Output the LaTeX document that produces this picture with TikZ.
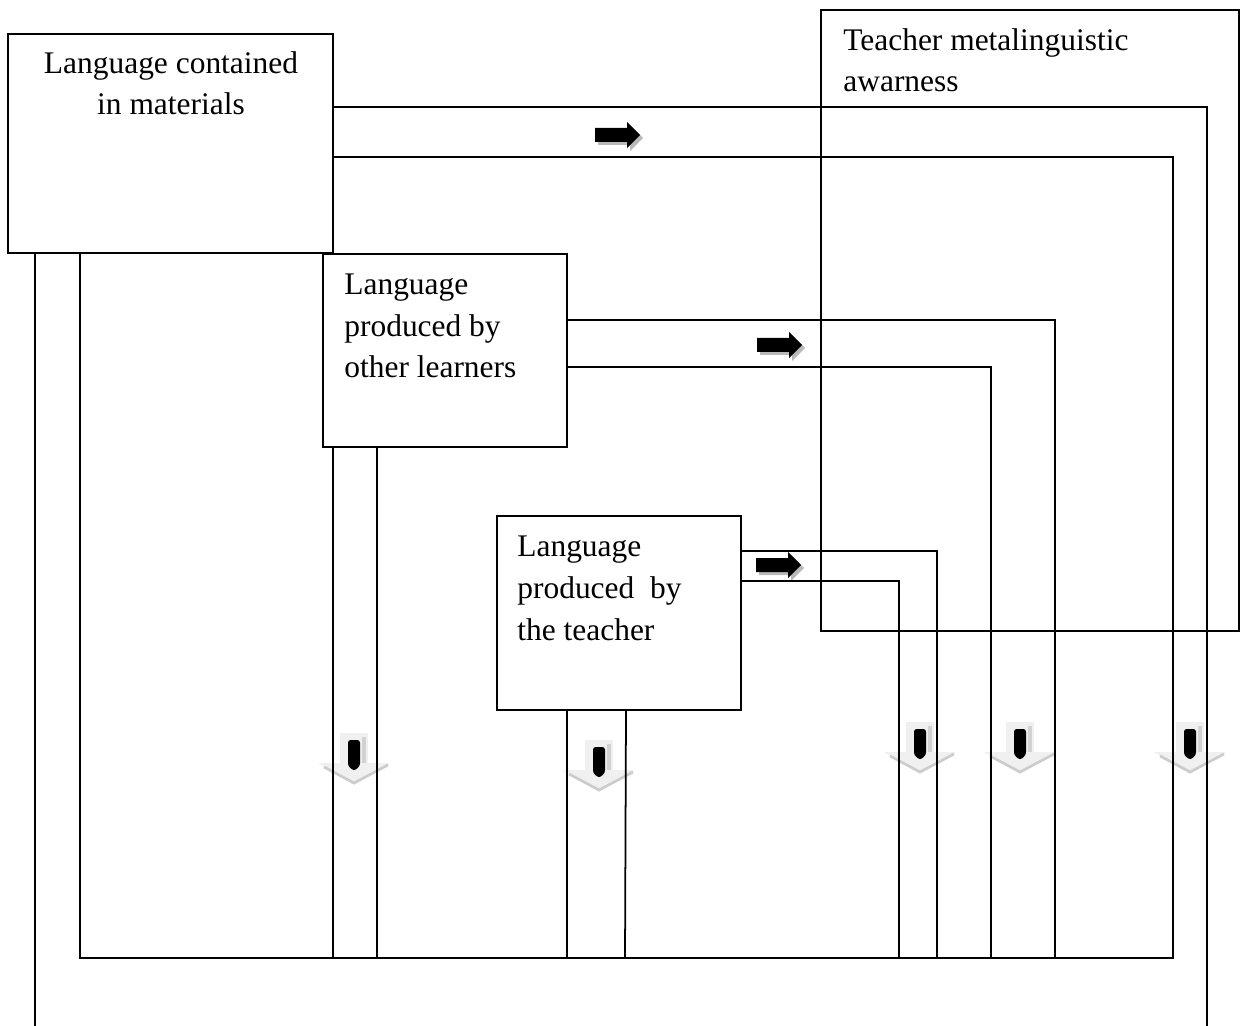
\documentclass[tikz,border=0pt]{standalone}
\usepackage{fontspec}
\setmainfont{Liberation Serif}
\usetikzlibrary{fit}
\tikzset{
  box/.style={draw, line width=1pt, inner sep=0pt},
  lbl/.style={inner sep=0pt, align=left, font=\fontsize{17.9pt}{23.8pt}\selectfont},
  conn/.style={line width=1pt},
}
\begin{document}
\begin{tikzpicture}[x=0.02cm, y=-0.02cm, line join=miter]
\useasboundingbox (0,0) rectangle (1243,1026);
% grey down arrows
\foreach \x/\y in {354/733, 599/740, 920/722, 1020/722, 1190/722}{
  \fill[gray!12] (\x-14,\y) rectangle (\x+14,\y+32);
  \fill[gray!12] (\x-36,\y+30) -- (\x+36,\y+30) -- (\x,\y+52) -- cycle;
  \fill[gray!35] (\x+8,\y+4) rectangle (\x+12,\y+30);
  \draw[gray!40, line width=1.5pt] (\x-30,\y+34) -- (\x,\y+50) -- (\x+34,\y+32);
  \fill[black, rounded corners=1.5pt] (\x-6,\y+7) -- (\x+6,\y+7) -- (\x+6,\y+33) -- (\x,\y+38) -- (\x-6,\y+33) -- cycle;
}
% right arrows
\foreach \x/\y in {595/135, 757/345, 756/565}{
  \fill[gray!55, shift={(3,3)}] (\x,\y-7) -- (\x+32,\y-7) -- (\x+32,\y-13) -- (\x+45,\y) -- (\x+32,\y+13) -- (\x+32,\y+7) -- (\x,\y+7) -- cycle;
  \fill[black] (\x,\y-7) -- (\x+32,\y-7) -- (\x+32,\y-13) -- (\x+45,\y) -- (\x+32,\y+13) -- (\x+32,\y+7) -- (\x,\y+7) -- cycle;
}
% boxes
\node[box, fit={(8,34) (333,253)}] (mat) {};
\node[box, fit={(821,10) (1239,631)}] (meta) {};
\node[box, fit={(323,254) (567,447)}] (lrn) {};
\node[box, fit={(497,516) (741,710)}] (tch) {};
% texts (base = last line)
\node[lbl, align=center, anchor=base] (matT) at (171,115) {Language contained\\in materials};
\node[lbl, anchor=base west] (metaT) at (843,92) {Teacher metalinguistic\\awarness};
\node[lbl, anchor=base west] (lrnT) at (344,378) {Language\\produced by\\other learners};
\node[lbl, anchor=base west] (tchT) at (517,640) {Language\\produced\ \ by\\the teacher};
% free ends
\path
  (35,1026) coordinate (endL)
  (1207,1026) coordinate (endR)
  (1173,958) coordinate (c1)
  (1055,958) coordinate (c2)
  (991,958) coordinate (c3)
  (937,958) coordinate (c4)
  (899,958) coordinate (c5)
  (333,958) coordinate (c6)
  (377,958) coordinate (c7)
  (567,958) coordinate (c8)
  (625,958) coordinate (c9);
% connectors
\draw[conn] (mat.east |- 0,107) -| (endR);
\draw[conn] (mat.east |- 0,157) -| (c1) -| (mat.south -| 80,0);
\draw[conn] (mat.south -| 35,0) -- (endL);
\draw[conn] (lrn.east |- 0,320) -| (c2);
\draw[conn] (lrn.east |- 0,367) -| (c3);
\draw[conn] (lrn.south -| 333,0) -- (c6);
\draw[conn] (lrn.south -| 377,0) -- (c7);
\draw[conn] (tch.east |- 0,551) -| (c4);
\draw[conn] (tch.east |- 0,581) -| (c5);
\draw[conn] (tch.south -| 567,0) -- (c8);
\draw[conn] (tch.south -| 626,0) -- (c9);
\end{tikzpicture}
\end{document}
